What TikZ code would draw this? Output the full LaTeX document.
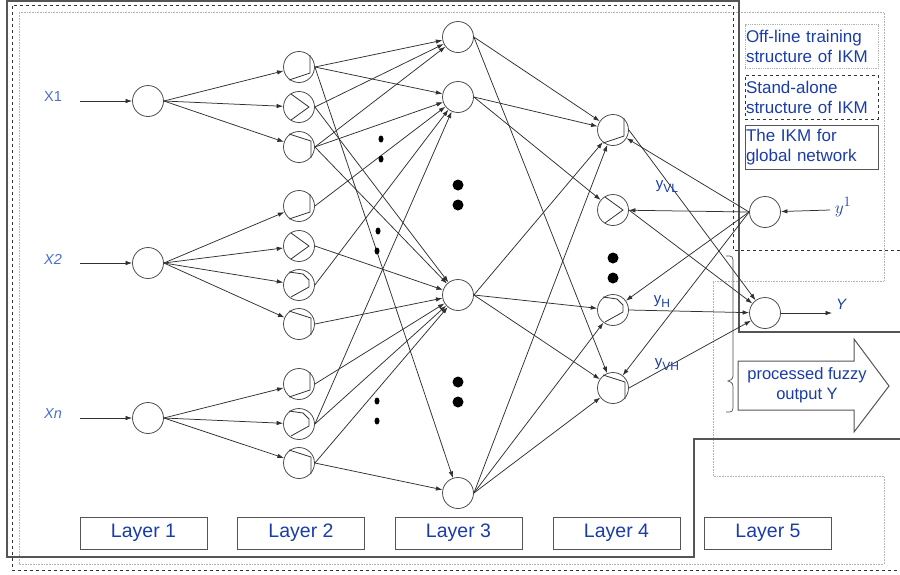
\documentclass[tikz,border=0pt]{standalone}
\usepackage{fontspec}
\setmainfont{Liberation Sans}
\usepackage{amsmath}
\usetikzlibrary{arrows.meta}
\definecolor{labelblue}{HTML}{1A3CA8}
\definecolor{inputblue}{HTML}{4A6FD0}
\definecolor{framegray}{HTML}{555555}
\definecolor{linkcolor}{HTML}{303030}

\tikzset{
  neuron/.style={draw=black!70, circle, minimum size=31pt, inner sep=0pt, line width=0.8pt},
  link/.style={->, draw=linkcolor, line width=0.75pt},
  mf/.style={draw=black!80, line width=0.8pt},
  layerbox/.style={draw=framegray, line width=1pt, minimum width=127pt, minimum height=32pt,
    inner sep=0pt, text=labelblue, font=\fontsize{19.5}{22}\selectfont},
  legendbox/.style={line width=0.8pt, minimum width=133pt, minimum height=44pt, text width=131pt,
    inner sep=1pt, align=left, text=labelblue, font=\fontsize{17}{20}\selectfont},
  inlabel/.style={text=inputblue, font=\fontsize{14.5}{16}\selectfont},
  outlabel/.style={text=labelblue, font=\fontsize{15}{17}\selectfont},
  bigdot/.style={fill=black},
}

% membership function glyphs drawn inside a neuron
\newcommand{\mfRise}[1]{\draw[mf] ([shift={(-10,13)}]#1.center) -- ([shift={(11,6)}]#1.center) -- ([shift={(11,-12)}]#1.center);}
\newcommand{\mfPeak}[1]{\draw[mf] ([shift={(-8,-13)}]#1.center) -- ([shift={(10,0)}]#1.center) -- ([shift={(-8,13)}]#1.center);}
\newcommand{\mfFall}[1]{\draw[mf] ([shift={(-10,-13)}]#1.center) -- ([shift={(12,-6)}]#1.center) -- ([shift={(12,11)}]#1.center);}
\newcommand{\mfTrap}[1]{\draw[mf] ([shift={(-8,12)}]#1.center) -- ([shift={(10,2)}]#1.center) -- ([shift={(10,-5)}]#1.center) -- ([shift={(4,-11)}]#1.center) -- ([shift={(-10,-13)}]#1.center);}
% output label with a large subscript
\newcommand{\ysub}[1]{y\raisebox{-4pt}{\fontsize{12}{12}\selectfont #1}}

\begin{document}
\begin{tikzpicture}[x=1pt, y=-1pt, >={Latex[length=6.5pt,width=4.5pt]}]
\useasboundingbox (0,0) rectangle (900,574);

% Structure frames
\draw[gray!60, densely dotted, line width=0.6pt] (19,12) -- (884,12) -- (884,281) -- (713,281) -- (713,476) -- (884,476) -- (884,564) -- (19,564) -- cycle;
\draw[black!80, dashed, line width=0.7pt] (900,250) -- (733,250) -- (733,5) -- (12,5) -- (12,570) -- (900,570);
\draw[framegray, line width=1.2pt] (900,332) -- (739,332) -- (739,1) -- (7,1) -- (7,557) -- (694,557) -- (694,439) -- (900,439);

% Legend
\node[legendbox, draw=gray!60, densely dotted] (legoff) at (811.5,46.5) {Off-line training\\structure of IKM};
\node[legendbox, draw=black!80, dashed] (legstand) at (811.5,97) {Stand-alone\\structure of IKM};
\node[legendbox, draw=framegray] (legglob) at (811.5,147) {The IKM for\\global network};

% Layer 1
\foreach \i/\y/\t in {1/101/X1, 2/263/\textit{X2}, 3/418/\textit{Xn}} {
    \node[neuron] (x\i) at (148,\y) {};
    \node[inlabel] (lx\i) at (53,\y-4) {\t};
    \coordinate (ix\i) at (80,\y);
    \draw[link] (ix\i) -- (x\i);
}

% Layer 2
\foreach \i/\y in {1/67, 2/107, 3/147, 4/206, 5/246, 6/285, 7/324, 8/384, 9/424, 10/463} {
    \node[neuron] (m\i) at (299,\y) {};
}
\foreach \i in {1,4,8} {\mfRise{m\i}}
\foreach \i in {2,5} {\mfPeak{m\i}}
\foreach \i in {3,7,10} {\mfFall{m\i}}
\foreach \i in {6,9} {\mfTrap{m\i}}

\foreach \s/\t in {1/1,1/2,1/3, 2/4,2/5,2/6,2/7, 3/8,3/9,3/10} {
    \draw[link] (x\s.east) -- (m\t);
}

% Layer 3
\foreach \i/\y in {1/37, 2/97, 3/295, 4/493} {
    \node[neuron] (r\i) at (458,\y) {};
}
\foreach \s/\t in {1/1,1/2,1/4, 2/1,2/3, 3/1,3/2,3/3, 4/2, 5/3, 6/2, 7/3, 8/3, 9/2,9/3, 10/3,10/4} {
    \draw[link] (m\s.east) -- (r\t);
}

% Layer 4
\foreach \i/\y in {1/130, 2/210, 3/310, 4/388} {
    \node[neuron] (c\i) at (613,\y) {};
}
\mfRise{c1}
\mfPeak{c2}
\mfTrap{c3}
\mfFall{c4}
\foreach \s/\t in {1/1,1/4, 2/1,2/2, 3/1,3/3,3/4, 4/1,4/3,4/4} {
    \draw[link] (r\s.east) -- (c\t);
}

% Layer 5
\node[neuron] (ytgt) at (765,212) {};
\node[neuron] (yout) at (765,313) {};
\coordinate (iy) at (830,210);
\coordinate (oy) at (832,313);
\node[text=labelblue, font=\fontsize{19}{20}\selectfont] (ly1) at (843,207) {$y^{1}$};
\node[outlabel, font=\fontsize{15}{17}\selectfont\itshape] (lyout) at (841,304) {Y};
\draw[link] (iy) -- (ytgt);
\draw[link] (yout) -- (oy);
\foreach \t in {1,...,4} {
    \draw[link] (ytgt.west) -- (c\t);
    \draw[link] (c\t.east) -- (yout);
}
\node[outlabel] (lvl) at (667,187) {\ysub{VL}};
\node[outlabel] (lh) at (662,302) {\ysub{H}};
\node[outlabel] (lvh) at (667,365) {\ysub{VH}};

% Dots
\foreach \y in {185,205,382,402} {\fill[bigdot] (458,\y) circle (5.5);}
\foreach \y in {258,278} {\fill[bigdot] (613,\y) circle (5.5);}
\foreach \x/\y in {381/139, 381/159, 378/231, 377/251, 377/401, 377/421} {\fill[bigdot] (\x,\y) ellipse (2.5 and 3.5);}

% Processed output arrow
\draw[framegray, line width=1pt, fill=white] (738,361) -- (854,361) -- (854,339) -- (889,386) -- (854,432) -- (854,410) -- (738,410) -- cycle;
\node[text=labelblue, align=center, font=\fontsize{16.5}{20}\selectfont] (fuzzy) at (807,385) {processed fuzzy\\output Y};
\draw[black!70, line width=0.7pt] (726,256) .. controls (733,256) .. (733,264) -- (733,372) .. controls (733,379) .. (728,381) .. controls (733,383) .. (733,390) -- (733,404) .. controls (733,412) .. (726,412);

% Layer boxes
\foreach \i/\x in {1/143.5, 2/301, 3/458.5, 4/616.5, 5/768} {
    \node[layerbox] (layer\i) at (\x,533) {Layer \i};
}
\end{tikzpicture}
\end{document}
